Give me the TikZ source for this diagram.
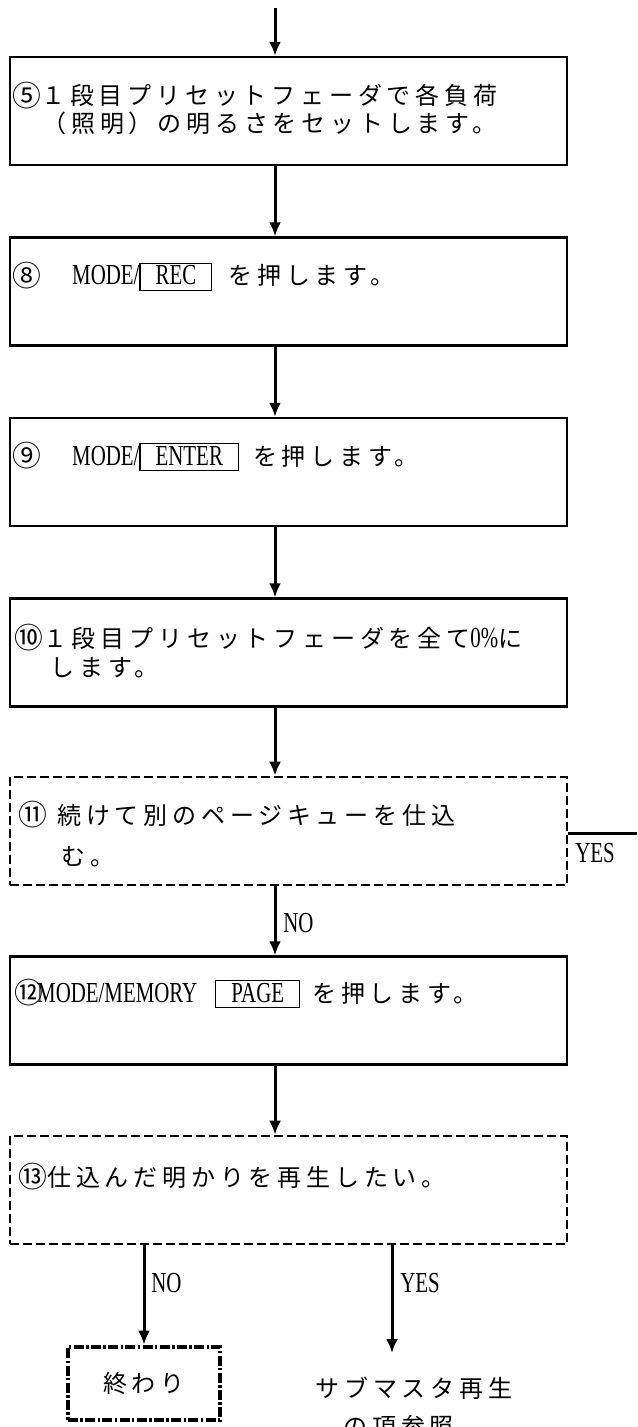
\documentclass[tikz,border=0pt]{standalone}
\usepackage{fontspec}
\setmainfont{Liberation Serif}[FakeStretch=0.72]
\newfontfamily\jfont{Noto Sans CJK JP}[LetterSpace=20]
\usetikzlibrary{arrows.meta}
\newcommand\jsize{\jfont\fontsize{12pt}{14pt}\selectfont}
\newcommand\latn[1]{{\rmfamily\fontsize{14.5pt}{16pt}\selectfont #1}}
\newcommand\cnum[1]{\raisebox{-0.08em}{\scalebox{1.2}{#1}}}
\newcommand\keycap[1]{{\setlength{\fboxsep}{0pt}\setlength{\fboxrule}{0.6pt}\fbox{\rule[-2.5pt]{0pt}{13pt}\hspace{7.5pt}\latn{#1}\hspace{7.5pt}}}}

\begin{document}
\begin{tikzpicture}[x=0.5pt, y=-0.5pt]
    \tikzset{stepbox/.style={draw, line width=1.1pt, minimum width=278.5pt, minimum height=54pt, inner sep=0pt},
      askbox/.style={stepbox, line width=1.3pt, dash pattern=on 4.5pt off 2pt},
      endbox/.style={draw, line width=2.4pt, dash pattern=on 5pt off 1.2pt on 1.2pt off 1.2pt, minimum width=76pt, minimum height=36.5pt, inner sep=0pt, font=\jsize},
      txt/.style={anchor=base west, inner sep=0pt, font=\jsize},
      lbl/.style={anchor=base west, inner sep=0pt, font=\rmfamily\fontsize{14.5pt}{16pt}\selectfont},
      arrow/.style={line width=1.5pt, -{Latex[length=7pt, width=6pt]}},
      branch/.style={line width=1.5pt}}

    \useasboundingbox (0, 0) rectangle (637, 1427);

    % Steps
    \node[stepbox] (b5) at (288.5, 111) {};
    \node[stepbox] (b8) at (288.5, 291.5) {};
    \node[stepbox] (b9) at (288.5, 472) {};
    \node[stepbox] (b10) at (288.5, 652.5) {};
    \node[askbox] (b11) at (288.5, 831) {};
    \node[stepbox] (b12) at (288.5, 1010.5) {};
    \node[askbox] (b13) at (288.5, 1190) {};
    \node[endbox] (fin) at (144, 1383.5) {終わり};

    % Texts
    \node[txt] (t5a) at (12, 105) {\cnum{⑤}１段目プリセットフェーダで各負荷};
    \node[txt] (t5b) at (42, 133) {（照明）の明るさをセットします。};
    \node[txt] (t8) at (12, 285) {\cnum{⑧}\hspace{15.5pt}\latn{MODE/}\keycap{REC}\hspace{8pt}を押します。};
    \node[txt] (t9) at (12, 465) {\cnum{⑨}\hspace{15.5pt}\latn{MODE/}\keycap{ENTER}\hspace{7pt}を押します。};
    \node[txt] (t10a) at (14, 647) {\cnum{⑩}１段目プリセットフェーダを全て\latn{0\%}に};
    \node[txt] (t10b) at (50, 676) {します。};
    \node[txt] (t11a) at (18, 824) {\cnum{⑪}\hspace{5pt}続けて別のページキューを仕込};
    \node[txt] (t11b) at (61, 865) {む。};
    \node[txt] (t12) at (14, 1002) {\cnum{⑫}\hspace{-3pt}\latn{MODE/MEMORY}\hspace{9pt}\keycap{PAGE}\hspace{6pt}を押します。};
    \node[txt] (t13) at (18, 1186) {\cnum{⑬}仕込んだ明かりを再生したい。};
    \node[txt] (suba) at (315, 1397) {サブマスタ再生};
    \node[txt] (subb) at (343, 1435) {の項参照};

    % Edges
    \coordinate (top) at (275, 8);
    \draw[arrow] (top) -- (top |- b5.north);
    \foreach \a/\b in {b5/b8, b8/b9, b9/b10, b10/b11, b11/b12, b12/b13} { \draw[arrow] (\a.south -| top) -- (\b.north -| top); }

    \coordinate (yesout) at (637, 833);
    \draw[branch] (b11.east |- yesout) -- (yesout);
    \coordinate (subtop) at (392, 1353);
    \draw[arrow] (b13.south -| fin) -- (fin.north);
    \draw[arrow] (b13.south -| subtop) -- (subtop);

    % Labels
    \node[lbl] (no1) at (283, 932) {NO};
    \node[lbl] (yes1) at (575, 862) {YES};
    \node[lbl] (no2) at (151, 1292) {NO};
    \node[lbl] (yes2) at (400, 1292) {YES};
\end{tikzpicture}
\end{document}
